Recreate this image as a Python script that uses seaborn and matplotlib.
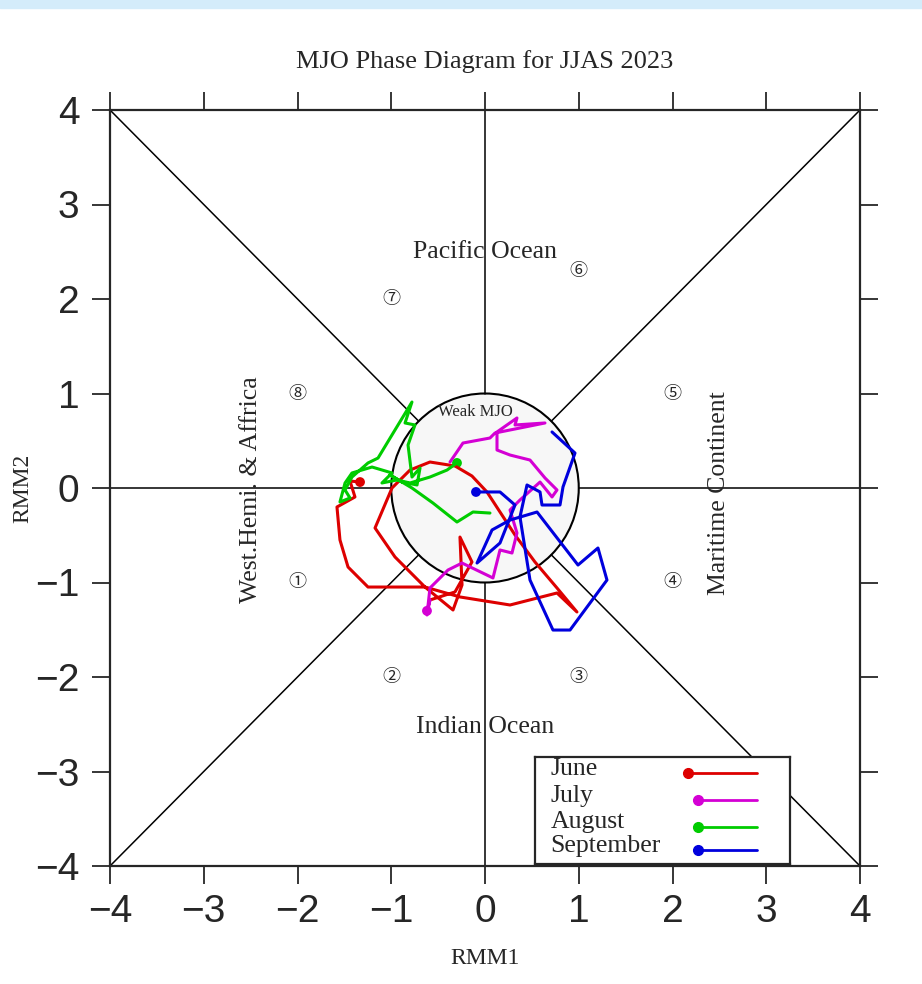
import matplotlib
matplotlib.use("Agg")
import matplotlib.pyplot as plt
from matplotlib.patches import Circle, Rectangle
import numpy as np
import pandas as pd
import seaborn as sns

# RMM1 / RMM2 daily trajectories
jun_x = [-1.333, -1.44, -1.387, -1.579, -1.547, -1.461, -1.248, -0.64, -0.267, 0.267, 0.768, 0.981,
         0.768, 0.533, 0.32, 0.16, 0.021, -0.139, -0.32, -0.587, -0.8, -0.992, -1.173, -0.96, -0.64,
         -0.341, -0.245, -0.267, -0.139, -0.32, -0.587]
jun_y = [0.063, 0.074, -0.095, -0.201, -0.55, -0.836, -1.048, -1.048, -1.153, -1.238, -1.111, -1.312,
         -1.058, -0.783, -0.497, -0.254, -0.042, 0.127, 0.233, 0.275, 0.19, 0.0, -0.423, -0.73, -1.048,
         -1.291, -1.026, -0.519, -0.783, -1.1, -1.185]

jul_x = [-0.619, -0.587, -0.619, -0.587, -0.395, -0.245, 0.085, 0.16, 0.288, 0.341, 0.267, 0.373, 0.587,
         0.715, 0.768, 0.64, 0.48, 0.267, 0.128, 0.128, 0.341, 0.32, 0.64, 0.373, 0.107, 0.053, -0.235,
         -0.373]
jul_y = [-1.30, -1.185, -1.344, -1.058, -0.868, -0.794, -0.952, -0.656, -0.688, -0.476, -0.233, -0.127,
         0.063, -0.095, -0.021, 0.106, 0.296, 0.349, 0.402, 0.593, 0.741, 0.667, 0.688, 0.635, 0.582,
         0.529, 0.476, 0.275]

aug_x = [-0.299, -0.405, -0.587, -0.8, -0.939, -1.099, -0.992, -1.205, -1.419, -1.493, -1.547, -1.44,
         -1.493, -1.419, -1.248, -1.141, -0.96, -0.779, -0.853, -0.747, -0.821, -0.779, -0.693, -0.725,
         -0.885, -1.013, -0.779, -0.555, -0.299, -0.128, 0.053]
aug_y = [0.265, 0.19, 0.116, 0.053, 0.085, 0.053, 0.159, 0.222, 0.159, 0.053, -0.148, -0.106, -0.021,
         0.116, 0.265, 0.317, 0.614, 0.91, 0.688, 0.667, 0.455, 0.116, 0.212, 0.032, 0.063, 0.138, 0.0,
         -0.159, -0.36, -0.254, -0.265]

sep_x = [-0.096, 0.16, 0.32, 0.16, -0.085, 0.075, 0.267, 0.555, 0.992, 1.205, 1.301, 0.907, 0.725, 0.48,
         0.373, 0.448, 0.587, 0.608, 0.8, 0.832, 0.96, 0.715]
sep_y = [-0.042, -0.042, -0.18, -0.582, -0.794, -0.444, -0.339, -0.254, -0.815, -0.635, -0.974, -1.503,
         -1.503, -0.974, -0.307, 0.032, -0.042, -0.18, -0.18, 0.011, 0.37, 0.593]

months = ["June", "July", "August", "September"]
colors = ["#dd0000", "#d400d4", "#00cc00", "#0000dd"]
phase_nums = ["①", "②", "③", "④", "⑤", "⑥", "⑦", "⑧"]
phase_pos = [(-2, -1), (-1, -2), (1, -2), (2, -1), (2, 1), (1, 2.3), (-1, 2), (-2, 1)]
ticks = [-4, -3, -2, -1, 0, 1, 2, 3, 4]

frames = []
for m, xs, ys in zip(months, [jun_x, jul_x, aug_x, sep_x], [jun_y, jul_y, aug_y, sep_y]):
    frames.append(pd.DataFrame({"RMM1": xs, "RMM2": ys, "month": m, "day": range(len(xs))}))
df = pd.concat(frames, ignore_index=True)

sns.set_style("ticks")
serif = ["Liberation Serif", "DejaVu Serif"]
sans = ["Liberation Sans", "DejaVu Sans"]
plt.rcParams["font.family"] = serif

fig = plt.figure(figsize=(9.22, 9.84), dpi=100)
fig.patches.append(Rectangle((0, 0.992), 1, 0.008, transform=fig.transFigure,
                             color="#d4ecfa", zorder=0))
ax = fig.add_axes([110 / 922, 118 / 984, 750 / 922, 756 / 984])

# background diagram
ax.add_patch(Circle((0, 0), 1, facecolor="#f7f7f7", edgecolor="black", lw=1.5, zorder=1))
d = np.sqrt(0.5)
for sx, sy in [(1, 1), (-1, 1), (1, -1), (-1, -1)]:
    ax.plot([sx * d, sx * 4], [sy * d, sy * 4], color="black", lw=1.1, zorder=1)
for s in [1, -1]:
    ax.plot([s, s * 4], [0, 0], color="black", lw=1.1, zorder=1)
    ax.plot([0, 0], [s, s * 4], color="black", lw=1.1, zorder=1)

# start dots sit under the tracks
starts = df[df["day"] == 0]
sns.scatterplot(data=starts, x="RMM1", y="RMM2", hue="month", palette=colors, hue_order=months,
                s=50, edgecolor="none", legend=False, ax=ax, zorder=2)
sns.lineplot(data=df, x="RMM1", y="RMM2", hue="month", palette=colors, hue_order=months,
             sort=False, estimator=None, units="month", lw=2.2, legend=False, ax=ax, zorder=3)

for lab, (px, py) in zip(phase_nums, phase_pos):
    ax.text(px, py, lab, ha="center", va="center", fontsize=13,
            family=["Noto Sans CJK JP", "DejaVu Sans"], zorder=2)
ax.text(0, 2.5, "Pacific Ocean", ha="center", va="center", fontsize=18.5, zorder=2)
ax.text(0, -2.53, "Indian Ocean", ha="center", va="center", fontsize=18.5, zorder=2)
ax.text(-2.5, -0.02, "West.Hemi. & Affrica", ha="center", va="center", rotation=90,
        fontsize=18.5, zorder=2)
ax.text(2.5, -0.05, "Maritime Continent", ha="center", va="center", rotation=90,
        fontsize=18.5, zorder=2)
ax.text(-0.1, 0.8, "Weak MJO", ha="center", va="center", fontsize=12, zorder=2)

ax.set_xlim(-4, 4)
ax.set_ylim(-4, 4)
ax.set_xticks(ticks)
ax.set_yticks(ticks)
ax.set_xticklabels([str(t).replace("-", "\u2212") for t in ticks], family=sans, fontsize=28)
ax.set_yticklabels([str(t).replace("-", "\u2212") for t in ticks], family=sans, fontsize=28)
ax.tick_params(direction="out", length=13, width=1.3, top=True, right=True)
ax.tick_params(axis="x", pad=7)
ax.tick_params(axis="y", pad=9)
for sp in ax.spines.values():
    sp.set_linewidth(1.6)
    sp.set_visible(True)
ax.set_xlabel("RMM1", fontsize=17, labelpad=13)
ax.set_ylabel("RMM2", fontsize=17, labelpad=1)
ax.set_title("MJO Phase Diagram for JJAS 2023", fontsize=19, pad=30)

# legend box
lax = ax.inset_axes([(0.533 + 4) / 8, (-3.98 + 4) / 8, 2.72 / 8, 1.13 / 8])
lax.set_xlim(0, 1)
lax.set_ylim(0, 1)
lax.set_xticks([])
lax.set_yticks([])
lax.set_facecolor("white")
for sp in lax.spines.values():
    sp.set_linewidth(1.6)
ys = [0.85, 0.6, 0.35, 0.13]
for i, (m, c) in enumerate(zip(months, colors)):
    x0 = 0.6 if i == 0 else 0.64
    lax.plot([x0, 0.87], [ys[i], ys[i]], color=c, lw=2.0)
    lax.plot([x0], [ys[i]], "o", color=c, ms=7)
    lax.text(0.06, ys[i] + 0.04, m, ha="left", va="center", fontsize=18.5)

fig.savefig("out.png", dpi=100)
